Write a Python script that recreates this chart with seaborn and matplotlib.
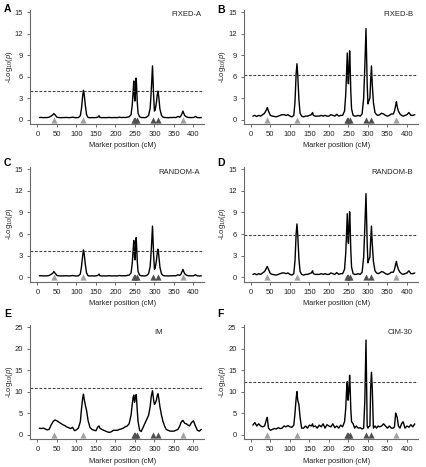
import numpy as np
import pandas as pd
import matplotlib
matplotlib.use("Agg")
import matplotlib.pyplot as plt
import seaborn as sns

# ---------------- data ----------------
positions = [5, 10, 15, 20, 25, 30, 35, 40, 42,
             45, 50, 55, 60, 65, 70, 75, 80, 85, 90, 95, 100, 105, 110,
             113, 116, 118, 120, 123, 126,
             130, 135, 140, 145, 150, 155,
             158,
             160, 165, 170, 175, 180, 185, 190, 195, 200, 205, 210, 215, 220, 225, 230, 235, 240,
             243, 245, 247, 249, 250, 251, 253, 254, 256, 258,
             262, 266,
             270, 275, 280, 285,
             289, 292, 295, 298, 300, 302, 305, 307, 309, 311, 314, 318, 322, 326,
             330, 335, 340, 345, 350, 355, 360, 365,
             368, 371, 373, 375, 378, 382, 386,
             390, 395, 400, 405, 410, 415, 420]

fixed_a = [0.30, 0.32, 0.28, 0.30, 0.30, 0.35, 0.50, 0.70, 0.85,
           0.70, 0.35, 0.30, 0.28, 0.30, 0.30, 0.32, 0.28, 0.30, 0.35, 0.30, 0.28, 0.30, 0.55,
           1.60, 3.30, 4.10, 3.50, 1.90, 0.70,
           0.30, 0.28, 0.30, 0.28, 0.30, 0.35,
           0.55,
           0.32, 0.28, 0.30, 0.28, 0.30, 0.32, 0.28, 0.30, 0.30, 0.28, 0.35, 0.30, 0.32, 0.30, 0.35, 0.40, 0.70,
           2.0, 3.6, 5.4, 3.0, 2.6, 3.4, 5.8, 5.0, 2.4, 0.9,
           0.40, 0.30,
           0.30, 0.28, 0.35, 0.60,
           1.6, 4.2, 7.5, 3.2, 1.2, 1.4, 2.4, 3.4, 4.0, 3.2, 1.5, 0.6, 0.35, 0.30,
           0.30, 0.28, 0.30, 0.30, 0.32, 0.30, 0.45, 0.35,
           0.55, 0.90, 1.20, 0.90, 0.55, 0.40, 0.32,
           0.30, 0.30, 0.30, 0.45, 0.30, 0.28, 0.30]

fixed_b = [0.5, 0.6, 0.45, 0.6, 0.5, 0.7, 0.9, 1.4, 1.7,
           1.2, 0.6, 0.5, 0.45, 0.4, 0.5, 0.6, 0.7, 0.7, 0.6, 0.7, 0.5, 0.4, 0.6,
           2.5, 6.5, 7.8, 6.3, 2.8, 0.9,
           0.5, 0.4, 0.5, 0.5, 0.6, 0.7,
           1.0,
           0.6, 0.5, 0.5, 0.5, 0.6, 0.5, 0.6, 0.5, 0.5, 0.7, 0.6, 0.5, 0.75, 0.5, 0.6, 0.6, 1.2,
           3.5, 6.2, 9.3, 5.5, 5.0, 6.5, 9.6, 8.4, 4.0, 1.5,
           0.6, 0.5,
           0.5, 0.6, 0.5, 0.8,
           3.0, 7.5, 12.7, 5.0, 2.2, 2.6, 3.0, 5.5, 7.5, 5.0, 2.4, 1.0, 0.7, 0.6,
           0.7, 0.9, 0.8, 0.6, 0.5, 0.6, 0.8, 0.8,
           1.2, 2.0, 2.5, 1.8, 1.2, 0.8, 0.6,
           0.5, 0.6, 0.7, 1.0, 0.6, 0.6, 0.7]

random_a = [0.20, 0.22, 0.18, 0.20, 0.20, 0.25, 0.40, 0.60, 0.80,
            0.60, 0.25, 0.20, 0.18, 0.20, 0.20, 0.22, 0.18, 0.20, 0.25, 0.20, 0.18, 0.20, 0.45,
            1.50, 3.00, 3.80, 3.20, 1.70, 0.60,
            0.20, 0.18, 0.20, 0.18, 0.20, 0.25,
            0.45,
            0.22, 0.18, 0.20, 0.18, 0.20, 0.22, 0.18, 0.20, 0.20, 0.18, 0.25, 0.20, 0.22, 0.20, 0.25, 0.30, 0.60,
            1.9, 3.4, 5.1, 2.8, 2.4, 3.2, 5.5, 4.7, 2.2, 0.8,
            0.30, 0.20,
            0.20, 0.18, 0.25, 0.50,
            1.5, 3.9, 7.1, 3.0, 1.1, 1.3, 2.3, 3.3, 3.9, 3.1, 1.4, 0.5, 0.25, 0.20,
            0.20, 0.18, 0.20, 0.20, 0.22, 0.20, 0.35, 0.25,
            0.45, 0.80, 1.10, 0.80, 0.45, 0.30, 0.22,
            0.20, 0.20, 0.20, 0.35, 0.20, 0.18, 0.20]

random_b = [0.4, 0.5, 0.35, 0.5, 0.4, 0.6, 0.8, 1.3, 1.5,
            1.1, 0.5, 0.4, 0.35, 0.3, 0.4, 0.5, 0.6, 0.6, 0.5, 0.6, 0.4, 0.3, 0.5,
            2.3, 6.1, 7.4, 5.9, 2.6, 0.8,
            0.4, 0.3, 0.4, 0.4, 0.5, 0.6,
            0.9,
            0.5, 0.4, 0.4, 0.4, 0.5, 0.4, 0.5, 0.4, 0.4, 0.6, 0.5, 0.4, 0.65, 0.4, 0.5, 0.5, 1.1,
            3.3, 5.8, 8.8, 5.2, 4.7, 6.2, 9.1, 8.0, 3.8, 1.4,
            0.5, 0.4,
            0.4, 0.5, 0.4, 0.7,
            2.8, 7.0, 11.6, 4.7, 2.0, 2.4, 2.8, 5.2, 7.1, 4.7, 2.2, 0.9, 0.6, 0.5,
            0.6, 0.8, 0.7, 0.5, 0.4, 0.5, 0.7, 0.7,
            1.1, 1.8, 2.2, 1.6, 1.1, 0.7, 0.5,
            0.4, 0.5, 0.6, 0.9, 0.5, 0.5, 0.6]

im = [1.5, 1.4, 1.5, 1.3, 1.1, 1.2, 2.2, 3.0, 3.2,
      3.4, 3.2, 2.9, 2.6, 2.3, 2.1, 1.8, 1.6, 1.4, 1.7, 0.9, 1.1, 1.5, 3.0,
      6.0, 8.5, 9.4, 8.2, 6.8, 5.6,
      3.2, 1.6, 1.2, 1.0, 0.9, 1.8,
      2.0,
      1.5, 1.2, 1.0, 0.8, 0.6, 0.5, 0.7, 1.0, 1.0, 1.0, 1.2, 1.3, 1.5, 1.8, 2.0, 2.5, 4.5,
      7.0, 8.5, 9.2, 7.5, 8.0, 8.5, 9.3, 8.5, 5.5, 3.0,
      1.0, 0.7,
      1.5, 2.5, 3.5, 4.5,
      6.5, 9.0, 10.2, 8.0, 7.0, 7.3, 8.0, 9.0, 9.5, 8.5, 6.5, 4.5, 3.0, 2.0,
      1.2, 1.0, 0.8, 0.8, 0.8, 1.0, 1.2, 2.0,
      2.8, 3.2, 3.3, 3.0, 2.6, 2.5, 2.2,
      2.0, 2.8, 3.2, 2.0, 1.0, 0.8, 1.2]

cim_30 = [2.2, 2.8, 2.0, 2.5, 2.0, 1.8, 2.0, 3.5, 4.0,
          1.5, 1.0, 1.2, 1.4, 1.3, 1.6, 1.4, 1.5, 2.0, 1.8, 2.1, 1.8, 1.7, 2.2,
          5.0, 8.5, 10.0, 8.0, 7.0, 4.0,
          1.5, 1.5, 2.0, 1.5, 2.2, 2.0,
          2.5,
          1.8, 2.0, 1.5, 2.2, 1.8, 2.5, 1.5, 2.3, 2.0, 1.8, 2.5, 1.6, 2.0, 1.5, 2.2, 1.8, 3.0,
          6.0, 10.0, 12.3, 8.0, 9.0, 10.0, 13.8, 12.0, 6.0, 3.0,
          2.5, 1.5,
          2.0, 1.5, 1.6, 1.3,
          1.5, 8.0, 22.0, 2.0, 1.5, 1.8, 2.0, 11.0, 14.5, 11.0, 1.5, 2.0, 1.5, 2.0,
          1.8, 2.0, 2.5, 2.0, 1.5, 2.0, 1.5, 1.5,
          1.8, 5.0, 4.5, 4.0, 2.0, 1.5, 2.5,
          3.0, 1.5, 2.0, 1.7, 2.3, 1.8, 2.5]

panel_letters = ["A", "B", "C", "D", "E", "F"]
panel_names = ["FIXED-A", "FIXED-B", "RANDOM-A", "RANDOM-B", "IM", "CIM-30"]
panel_series = [fixed_a, fixed_b, random_a, random_b, im, cim_30]
thresholds = [4.0, 6.2, 3.6, 5.8, 10.8, 12.2]

qtl_positions = [42, 118, 247, 250, 254, 295, 309, 373]
qtl_major = [False, False, True, True, True, True, True, False]

x_ticks = [0, 50, 100, 150, 200, 250, 300, 350, 400]
y_ticks_small = [0, 3, 6, 9, 12, 15]
y_ticks_large = [0, 5, 10, 15, 20, 25]

# ---------------- style ----------------
sns.set_style("ticks")
plt.rcParams["font.family"] = ["Liberation Sans", "DejaVu Sans"]
plt.rcParams["mathtext.fontset"] = "custom"
plt.rcParams["mathtext.rm"] = "Liberation Sans"
plt.rcParams["mathtext.it"] = "Liberation Sans:italic"

W, H = 426, 467
fig = plt.figure(figsize=(W / 100, H / 100), dpi=100)

# axes boxes in pixels: (left, top, right, bottom)
boxes = [(30, 10, 204, 124), (243.5, 10, 417.5, 124),
         (30, 167, 204, 281.6), (243.5, 167, 417.5, 281.6),
         (30, 325, 204, 439.3), (243.5, 325, 417.5, 439.3)]
# title anchor (x px, y px, ha)
title_pos = [(201, 15, "right"), (414, 15, "right"),
             (200, 173, "right"), (413, 173, "right"),
             (154, 332, "left"), (412, 332, "right")]
letter_pos = [(4, 9), (217, 10), (4, 163), (217, 163), (4, 314), (217, 314)]

spine_col = "#6a6a6a"
light_tri = "#a0a0a0"
dark_tri = "#505050"

for i in range(6):
    l, t, r, b = boxes[i]
    ax = fig.add_axes([l / W, 1 - b / H, (r - l) / W, (b - t) / H])
    df = pd.DataFrame({"pos": positions, "lod": panel_series[i]})
    sns.lineplot(data=df, x="pos", y="lod", ax=ax, color="black", lw=1.0,
                 estimator=None, sort=False)
    ax.axhline(thresholds[i], color="#444444", lw=0.8, ls=(0, (2.5, 1.5)))
    tri_df = pd.DataFrame({"pos": qtl_positions, "y": [0.0] * len(qtl_positions),
                           "major": qtl_major})
    for major, col in [(False, light_tri), (True, dark_tri)]:
        sub = tri_df[tri_df["major"] == major]
        ax.scatter(sub["pos"], sub["y"], marker="^", s=20, color=col,
                   linewidths=0, zorder=3, clip_on=False)

    big = i >= 4
    ax.set_xlim(-19, 427)
    if big:
        ax.set_ylim(-1.1, 25.5)
        ax.set_yticks(y_ticks_large)
    else:
        ax.set_ylim(-0.6, 15.3)
        ax.set_yticks(y_ticks_small)
    ax.set_xticks(x_ticks)
    ax.tick_params(labelsize=5.5, length=2.5, width=0.7, pad=2.5,
                   colors="#222222")
    ax.tick_params(color=spine_col)
    for s in ["top", "right"]:
        ax.spines[s].set_visible(False)
    for s in ["left", "bottom"]:
        ax.spines[s].set_color(spine_col)
        ax.spines[s].set_linewidth(0.8)

    ax.set_xlabel("")
    ax.set_ylabel(r"-Log$_{10}$($\mathit{p}$)", fontsize=5.5, color="#222222",
                  va="center")
    ax.yaxis.set_label_coords(-0.118, 0.5)
    fig.text(((l + r) / 2 + 6) / W, 1 - (b + 22) / H, "Marker position (cM)",
             ha="center", va="center", fontsize=5.3, color="#222222")

    tx, ty, ha = title_pos[i]
    fig.text(tx / W, 1 - ty / H, panel_names[i], ha=ha, va="center",
             fontsize=5.5, color="#222222")
    lx, ly = letter_pos[i]
    fig.text(lx / W, 1 - ly / H, panel_letters[i], ha="left", va="center",
             fontsize=7.5, fontweight="bold", color="black")

fig.savefig("out.png", dpi=100)
